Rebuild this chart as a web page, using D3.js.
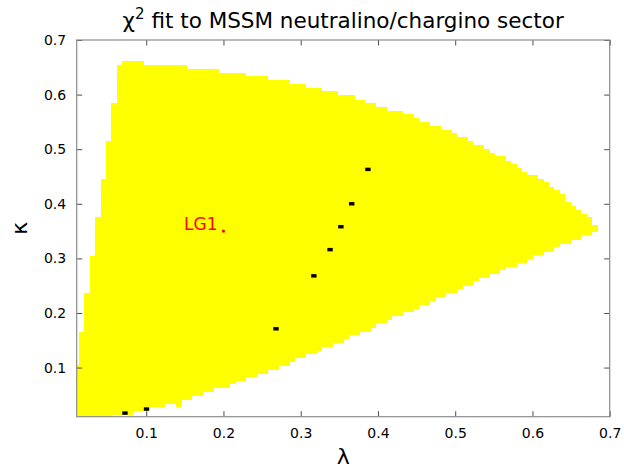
<!DOCTYPE html>
<html>
<head>
<meta charset="utf-8">
<script src="https://cdn.jsdelivr.net/npm/d3@7"></script>
<style>
  html, body { margin: 0; padding: 0; background: #fff; }
  svg { display: block; font-family: "DejaVu Sans", sans-serif; }
</style>
</head>
<body>
<svg id="chart" width="624" height="471"></svg>
<script>
// Scan grid result: allowed (λ, κ) region, described by its upper and lower
// staircase edges. Each entry is [λ where the step starts, κ of the edge].
const regionTop = [
  [0.0100, 0.104], [0.0130, 0.166], [0.0200, 0.237], [0.0270, 0.305],
  [0.0340, 0.376], [0.0410, 0.446], [0.0480, 0.515], [0.0550, 0.584],
  [0.0620, 0.654], [0.0689, 0.662], [0.0969, 0.654], [0.1529, 0.647],
  [0.1948, 0.640], [0.2298, 0.634], [0.2578, 0.627], [0.2858, 0.620],
  [0.3067, 0.612], [0.3277, 0.606], [0.3487, 0.600], [0.3697, 0.591],
  [0.3837, 0.584], [0.3977, 0.577], [0.4116, 0.570], [0.4326, 0.564],
  [0.4466, 0.557], [0.4536, 0.550], [0.4676, 0.543], [0.4816, 0.536],
  [0.4956, 0.529], [0.5026, 0.522], [0.5165, 0.515], [0.5235, 0.508],
  [0.5375, 0.501], [0.5445, 0.493], [0.5515, 0.487], [0.5655, 0.479],
  [0.5725, 0.473], [0.5795, 0.466], [0.5865, 0.459], [0.5935, 0.452],
  [0.6075, 0.445], [0.6144, 0.439], [0.6214, 0.431], [0.6284, 0.425],
  [0.6354, 0.418], [0.6424, 0.403], [0.6494, 0.396], [0.6564, 0.389],
  [0.6634, 0.382], [0.6704, 0.375], [0.6774, 0.362]
];
const regionBottom = [
  [0.0100, 0.0100], [0.0550, 0.0137], [0.0829, 0.0198], [0.1039, 0.027],
  [0.1249, 0.034], [0.1389, 0.027], [0.1459, 0.040], [0.1599, 0.048],
  [0.1739, 0.055], [0.1878, 0.062], [0.2088, 0.069], [0.2158, 0.076],
  [0.2298, 0.082], [0.2438, 0.089], [0.2578, 0.096], [0.2718, 0.103],
  [0.2858, 0.110], [0.2928, 0.117], [0.3067, 0.124], [0.3207, 0.131],
  [0.3277, 0.138], [0.3417, 0.145], [0.3557, 0.152], [0.3627, 0.159],
  [0.3767, 0.166], [0.3907, 0.173], [0.3977, 0.181], [0.4116, 0.187],
  [0.4186, 0.194], [0.4326, 0.201], [0.4466, 0.208], [0.4536, 0.215],
  [0.4676, 0.222], [0.4746, 0.230], [0.4886, 0.237], [0.5026, 0.243],
  [0.5096, 0.250], [0.5235, 0.258], [0.5305, 0.264], [0.5445, 0.272],
  [0.5585, 0.278], [0.5655, 0.285], [0.5795, 0.292], [0.5935, 0.299],
  [0.6005, 0.306], [0.6144, 0.312], [0.6284, 0.320], [0.6354, 0.327],
  [0.6494, 0.334], [0.6634, 0.342], [0.6774, 0.349]
];
const regionEndLambda = 0.6844;
const gridStep = 0.007;

// Best-fit grid cells along the valley of the χ² surface
const bestLambda = [0.0725, 0.1004, 0.268, 0.317, 0.338, 0.352, 0.366, 0.387];
const bestKappa  = [0.0166, 0.024, 0.171, 0.268, 0.316, 0.358, 0.400, 0.463];

// Benchmark point
const benchName = "LG1";
const benchLambda = 0.2;
const benchKappa = 0.35;

const lambdaTicks = [0.1, 0.2, 0.3, 0.4, 0.5, 0.6, 0.7];
const kappaTicks = [0.1, 0.2, 0.3, 0.4, 0.5, 0.6, 0.7];
const titleMain = "χ";
const titleSup = "2";
const titleRest = " fit to MSSM neutralino/chargino sector";

const svg = d3.select("#chart");
const plot = { left: 76.7, right: 609.7, top: 40, bottom: 416.7 };

const x = d3.scaleLinear().domain([0.01, 0.7]).range([plot.left, plot.right]);
const y = d3.scaleLinear().domain([0.01, 0.7]).range([plot.bottom, plot.top]);

svg.append("defs").append("clipPath").attr("id", "plotClip")
  .append("rect")
  .attr("x", plot.left).attr("y", plot.top)
  .attr("width", plot.right - plot.left).attr("height", plot.bottom - plot.top);

// Merge both staircase edges onto one set of λ break points
function edgeAt(edge, l) {
  let v = edge[0][1];
  for (const [a, b] of edge) if (a <= l + 1e-9) v = b;
  return v;
}
const breaks = Array.from(new Set([...regionTop.map(d => d[0]), ...regionBottom.map(d => d[0])]))
  .sort((a, b) => a - b);
const regionPts = breaks.map(l => ({ l, hi: edgeAt(regionTop, l), lo: edgeAt(regionBottom, l) }));
const lastPt = regionPts[regionPts.length - 1];
regionPts.push({ l: regionEndLambda, hi: lastPt.hi, lo: lastPt.lo });

const area = d3.area()
  .x(d => x(d.l))
  .y0(d => y(d.lo))
  .y1(d => y(d.hi))
  .curve(d3.curveStepAfter);

const g = svg.append("g").attr("clip-path", "url(#plotClip)");
g.append("path")
  .datum(regionPts)
  .attr("d", area)
  .attr("fill", "#ffff00")
  .attr("shape-rendering", "crispEdges");

// Best-fit cells
const cellW = x(gridStep) - x(0);
const cellH = y(0) - y(gridStep * 0.9);
g.selectAll("rect.best")
  .data(d3.range(bestLambda.length))
  .join("rect")
  .attr("class", "best")
  .attr("x", i => x(bestLambda[i]) - cellW / 2)
  .attr("y", i => y(bestKappa[i]) - cellH / 2)
  .attr("width", cellW)
  .attr("height", cellH)
  .attr("fill", "#000");

// Benchmark marker and label
g.append("circle")
  .attr("cx", x(benchLambda)).attr("cy", y(benchKappa))
  .attr("r", 1.6).attr("fill", "#ff0000");
svg.append("text")
  .attr("x", x(benchLambda) - 6).attr("y", y(benchKappa) - 1.5)
  .attr("text-anchor", "end")
  .attr("fill", "#ff0000")
  .attr("font-size", 17)
  .text(benchName);

// Axes with inward ticks on all four sides
const tickLen = 5.5;
const axisB = svg.append("g").attr("transform", `translate(0,${plot.bottom})`)
  .call(d3.axisBottom(x).tickValues(lambdaTicks).tickFormat(d3.format(".1f"))
    .tickSizeInner(-tickLen).tickSizeOuter(0).tickPadding(11));
const axisT = svg.append("g").attr("transform", `translate(0,${plot.top})`)
  .call(d3.axisTop(x).tickValues(lambdaTicks).tickFormat("")
    .tickSizeInner(-tickLen).tickSizeOuter(0));
const axisL = svg.append("g").attr("transform", `translate(${plot.left},0)`)
  .call(d3.axisLeft(y).tickValues(kappaTicks).tickFormat(d3.format(".1f"))
    .tickSizeInner(-tickLen).tickSizeOuter(0).tickPadding(10.5));
const axisR = svg.append("g").attr("transform", `translate(${plot.right},0)`)
  .call(d3.axisRight(y).tickValues(kappaTicks).tickFormat("")
    .tickSizeInner(-tickLen).tickSizeOuter(0));

[axisB, axisT, axisL, axisR].forEach(a => {
  a.select(".domain").remove();
  a.selectAll(".tick line").attr("stroke", "#4d4d4d").attr("stroke-width", 1);
  a.selectAll(".tick text").attr("fill", "#000").attr("font-size", 14)
    .attr("font-family", "DejaVu Sans, sans-serif");
});

svg.append("rect")
  .attr("x", plot.left).attr("y", plot.top)
  .attr("width", plot.right - plot.left).attr("height", plot.bottom - plot.top)
  .attr("fill", "none").attr("stroke", "#8c8c8c").attr("stroke-width", 1.2);

// Title with superscript
const title = svg.append("text")
  .attr("x", (plot.left + plot.right) / 2).attr("y", 28)
  .attr("text-anchor", "middle")
  .attr("font-size", 21.5)
  .attr("fill", "#000");
title.append("tspan").text(titleMain);
title.append("tspan").attr("dy", -9).attr("font-size", 15).text(titleSup);
title.append("tspan").attr("dy", 9).text(titleRest);

// Axis labels
svg.append("text")
  .attr("x", (plot.left + plot.right) / 2).attr("y", 464)
  .attr("text-anchor", "middle").attr("font-size", 22).attr("fill", "#000")
  .text("λ");
svg.append("text")
  .attr("transform", `translate(27,${(plot.top + plot.bottom) / 2}) rotate(-90)`)
  .attr("text-anchor", "middle").attr("font-size", 22).attr("fill", "#000")
  .text("κ");
</script>
</body>
</html>
